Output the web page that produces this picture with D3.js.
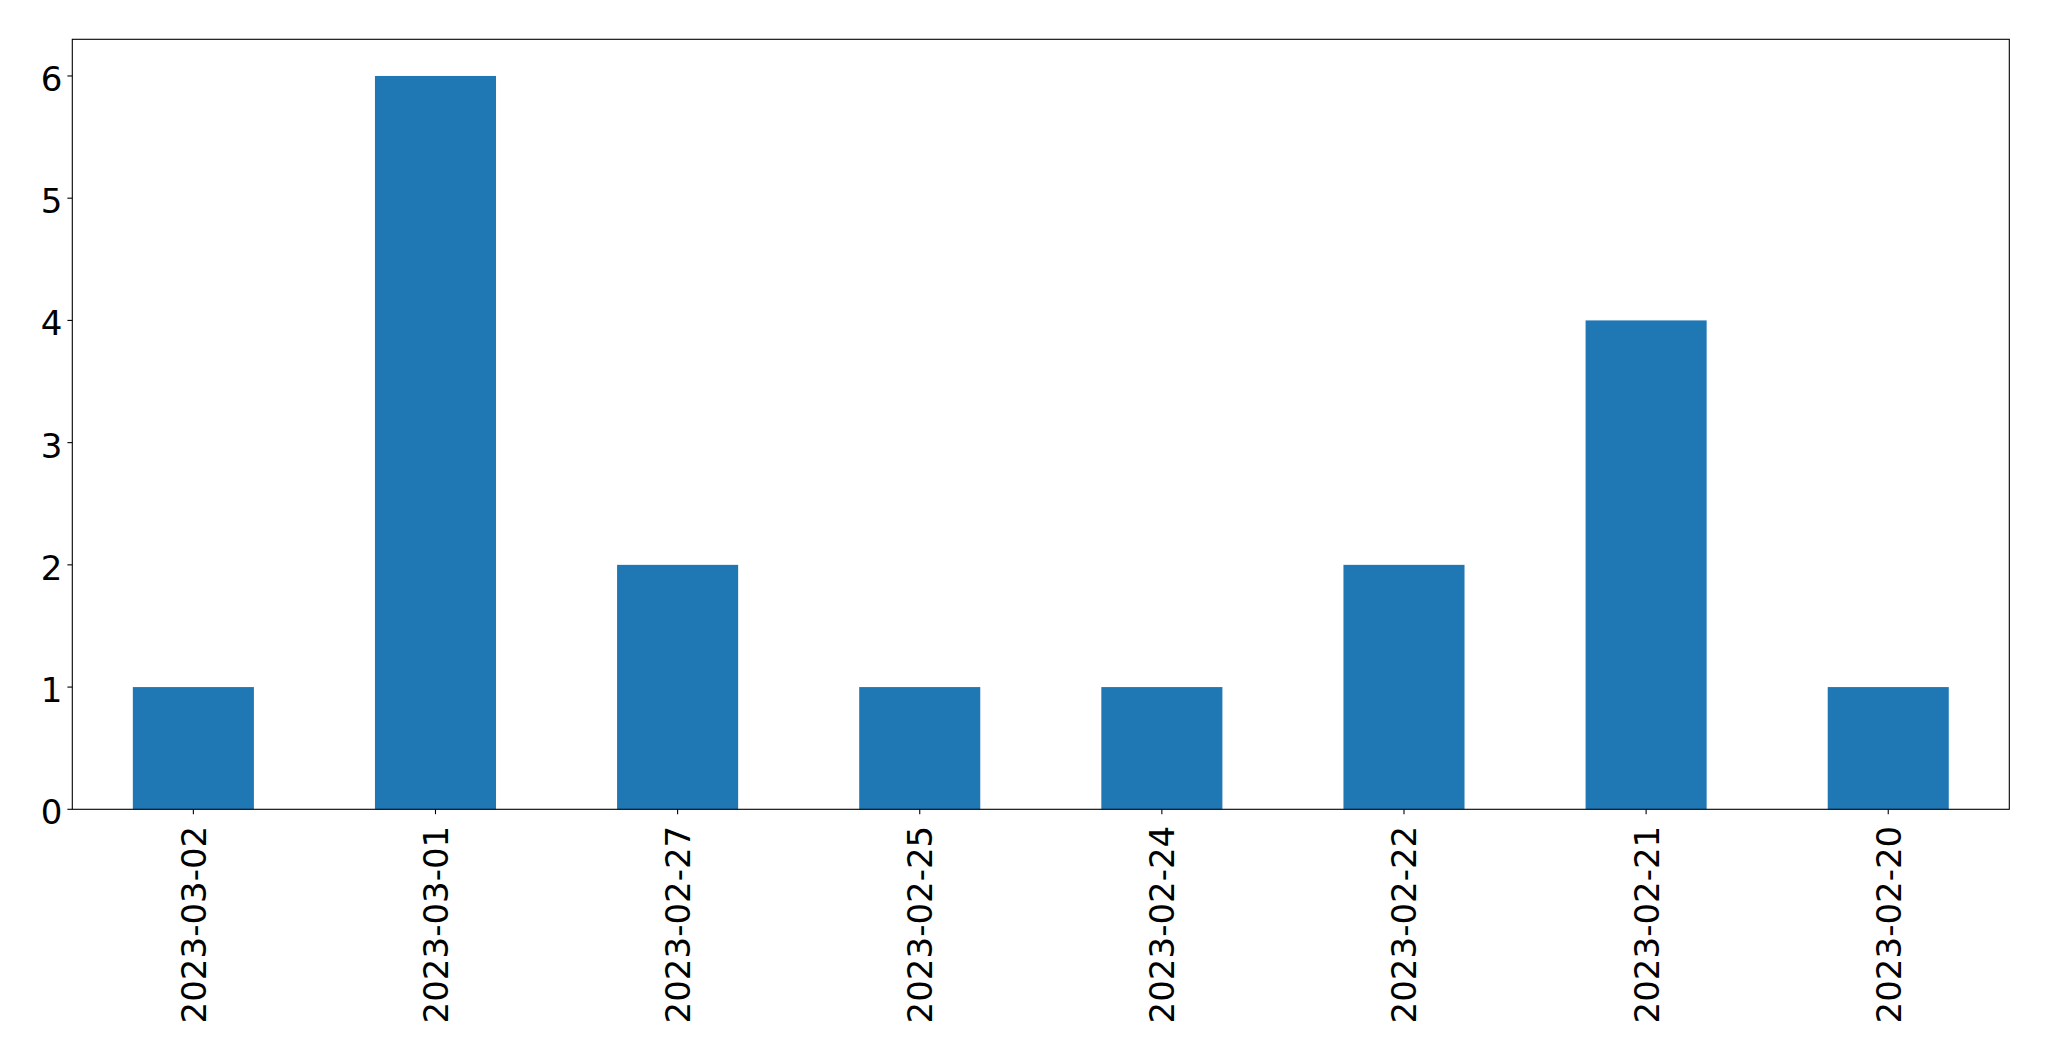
<!DOCTYPE html>
<html><head><meta charset="utf-8">
<script src="https://cdn.jsdelivr.net/npm/d3@7"></script>
<style>body{margin:0;background:#fff}svg{display:block}</style>
</head><body>
<script>
const categories = ["2023-03-02","2023-03-01","2023-02-27","2023-02-25","2023-02-24","2023-02-22","2023-02-21","2023-02-20"];
const values = [1,6,2,1,1,2,4,1];
const yTicks = [0,1,2,3,4,5,6];

const W = 2049, H = 1061;
const plotLeft = 72.3, plotRight = 2009.3, plotTop = 39.3, plotBottom = 809.3;
const fs = 34, tickLen = 4.9, pad = 4.9;

const svg = d3.select("body").append("svg").attr("width", W).attr("height", H)
  .style("font-family", "'DejaVu Sans', sans-serif");

const x = d3.scaleLinear().domain([-0.5, categories.length - 0.5]).range([plotLeft, plotRight]);
const y = d3.scaleLinear().domain([0, 6.3]).range([plotBottom, plotTop]);

svg.selectAll("rect.bar").data(values).enter().append("rect")
  .attr("class", "bar")
  .attr("x", (d, i) => x(i - 0.25))
  .attr("width", (d, i) => x(i + 0.25) - x(i - 0.25))
  .attr("y", d => y(d))
  .attr("height", d => y(0) - y(d))
  .attr("fill", "#1f77b4");

// frame
svg.append("rect").attr("x", plotLeft).attr("y", plotTop).attr("width", plotRight - plotLeft).attr("height", plotBottom - plotTop)
  .attr("fill", "none").attr("stroke", "#000").attr("stroke-width", 1.1);

// y ticks
const yg = svg.append("g");
yTicks.forEach(t => {
  yg.append("line").attr("x1", plotLeft - tickLen).attr("x2", plotLeft).attr("y1", y(t)).attr("y2", y(t))
    .attr("stroke", "#000").attr("stroke-width", 1.1);
  yg.append("text").attr("x", plotLeft - tickLen - pad).attr("y", y(t) + 15)
    .attr("text-anchor", "end").attr("font-size", fs).attr("fill", "#000").text(t);
});

// x ticks
const xg = svg.append("g");
categories.forEach((c, i) => {
  const cx = x(i);
  xg.append("line").attr("x1", cx).attr("x2", cx).attr("y1", plotBottom).attr("y2", plotBottom + tickLen)
    .attr("stroke", "#000").attr("stroke-width", 1.1);
  const ty = plotBottom + 16.5;
  const tx = cx + 12.4;
  xg.append("text").attr("transform", `translate(${tx},${ty}) rotate(-90)`)
    .attr("text-anchor", "end").attr("font-size", fs).attr("fill", "#000").text(c);
});
</script>
</body></html>
